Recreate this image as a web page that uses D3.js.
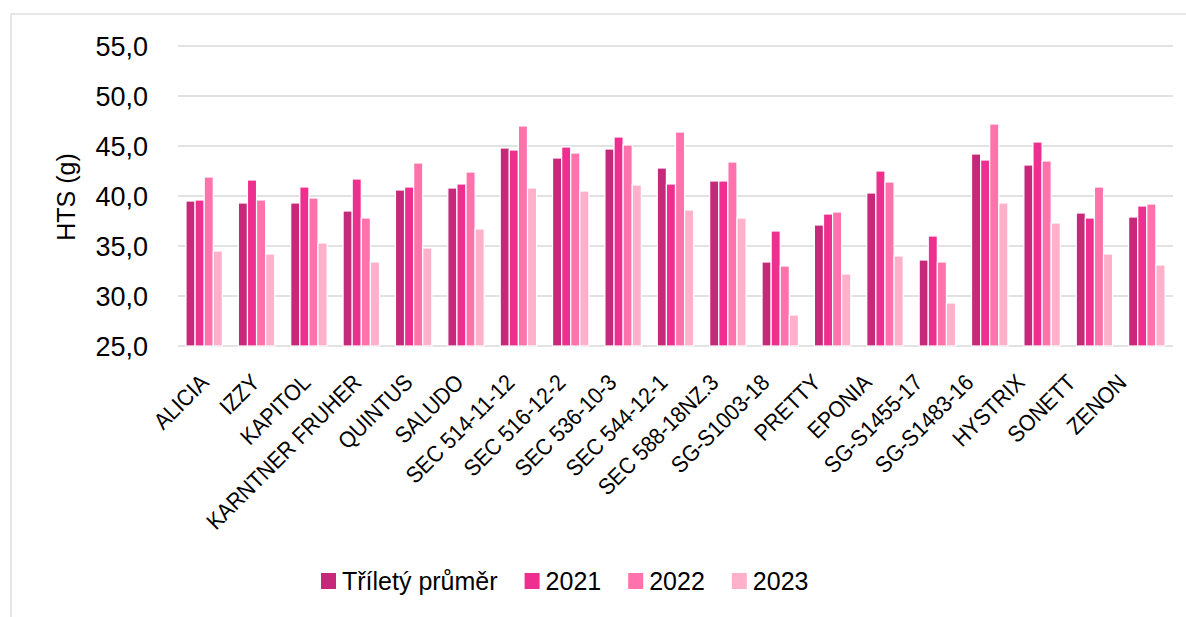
<!DOCTYPE html>
<html>
<head>
<meta charset="utf-8">
<script src="https://cdn.jsdelivr.net/npm/d3@7"></script>
<style>
  body { margin: 0; background: #fff; }
  svg { display: block; font-family: "Liberation Sans", Arial, sans-serif; }
</style>
</head>
<body>
<svg id="chart" width="1186" height="617"></svg>
<script>
var w = 1186;
var h = 617;

var categories = ["ALICIA", "IZZY", "KAPITOL", "KARNTNER FRUHER", "QUINTUS", "SALUDO",
    "SEC 514-11-12", "SEC 516-12-2", "SEC 536-10-3", "SEC 544-12-1", "SEC 588-18NZ.3",
    "SG-S1003-18", "PRETTY", "EPONIA", "SG-S1455-17", "SG-S1483-16", "HYSTRIX", "SONETT", "ZENON"];
var seriesNames = ["Tříletý průměr", "2021", "2022", "2023"];
var avg3 = [39.5, 39.3, 39.3, 38.5, 40.6, 40.8, 44.8, 43.8, 44.7, 42.8, 41.5, 33.4, 37.1, 40.3, 33.6, 44.2, 43.1, 38.3, 37.9];
var y2021 = [39.6, 41.6, 40.9, 41.7, 40.9, 41.2, 44.6, 44.9, 45.9, 41.2, 41.5, 36.5, 38.2, 42.5, 36.0, 43.6, 45.4, 37.8, 39.0];
var y2022 = [41.9, 39.6, 39.8, 37.8, 43.3, 42.4, 47.0, 44.3, 45.1, 46.4, 43.4, 33.0, 38.4, 41.4, 33.4, 47.2, 43.5, 40.9, 39.2];
var y2023 = [34.5, 34.2, 35.3, 33.4, 34.8, 36.7, 40.8, 40.5, 41.1, 38.6, 37.8, 28.1, 32.2, 34.0, 29.3, 39.3, 37.3, 34.2, 33.1];
var yTicks = [25, 30, 35, 40, 45, 50, 55];
var colors = ["#c6287a", "#ee2f8f", "#ff72ac", "#ffb0ca"];

var series = [avg3, y2021, y2022, y2023];

var svg = d3.select("#chart");

// chart frame (runs off the right/bottom edge like the source)
svg.append("rect")
    .attr("x", 11).attr("y", 14)
    .attr("width", w).attr("height", h)
    .attr("fill", "none")
    .attr("stroke", "#d9d9d9")
    .attr("stroke-width", 1.3);

var xScale = d3.scaleBand()
    .domain(categories)
    .range([178, 1173])
    .paddingInner(0.305)
    .paddingOuter(0.1525);

var xSub = d3.scaleBand()
    .domain(d3.range(series.length))
    .range([0, xScale.bandwidth()]);

var yScale = d3.scaleLinear()
    .domain([25, 55])
    .range([346, 46]);

// gridlines
svg.append("g")
    .selectAll("line")
    .data(yTicks)
    .enter()
    .append("line")
    .attr("x1", 178).attr("x2", 1173)
    .attr("y1", function(d) { return yScale(d); })
    .attr("y2", function(d) { return yScale(d); })
    .attr("stroke", "#d9d9d9")
    .attr("stroke-width", 1.4);

// y tick labels
svg.append("g")
    .selectAll("text")
    .data(yTicks)
    .enter()
    .append("text")
    .attr("x", 148)
    .attr("y", function(d) { return yScale(d); })
    .attr("dy", "0.36em")
    .attr("text-anchor", "end")
    .attr("font-size", 27)
    .attr("fill", "#000")
    .text(function(d) { return d.toFixed(1).replace(".", ","); });

// y title
svg.append("text")
    .attr("transform", "translate(75,197) rotate(-90)")
    .attr("text-anchor", "middle")
    .attr("font-size", 25)
    .attr("fill", "#000")
    .text("HTS (g)");

// bars
var groups = svg.append("g")
    .selectAll("g")
    .data(categories)
    .enter()
    .append("g")
    .attr("transform", function(d) { return "translate(" + xScale(d) + ",0)"; });

groups.selectAll("rect")
    .data(function(d, i) {
        return series.map(function(s, k) { return { k: k, v: s[i] }; });
    })
    .enter()
    .append("rect")
    .attr("x", function(d) { return xSub(d.k); })
    .attr("y", function(d) { return yScale(d.v); })
    .attr("width", xSub.bandwidth())
    .attr("height", function(d) { return yScale(25) - yScale(d.v); })
    .attr("fill", function(d) { return colors[d.k]; })
    .attr("stroke", "#fff")
    .attr("stroke-width", 1.2);

// rotated category labels (they drift a little left of the bars in the source)
var xLabel = d3.scalePoint()
    .domain(categories)
    .range([210, 1128]);

svg.append("g")
    .selectAll("text")
    .data(categories)
    .enter()
    .append("text")
    .attr("transform", function(d) {
        return "translate(" + xLabel(d) + ",384) rotate(-45) scale(0.91,1)";
    })
    .attr("text-anchor", "end")
    .attr("font-size", 23)
    .attr("fill", "#000")
    .text(function(d) { return d; });

// legend
var legend = svg.append("g");
var lx = 321;
seriesNames.forEach(function(name, k) {
    legend.append("rect")
        .attr("x", lx).attr("y", 573)
        .attr("width", 15).attr("height", 16)
        .attr("fill", colors[k]);
    var t = legend.append("text")
        .attr("x", lx + 21)
        .attr("y", 590)
        .attr("font-size", 25)
        .attr("fill", "#000")
        .text(name);
    lx = lx + 21 + t.node().getComputedTextLength() + 27;
});
</script>
</body>
</html>
